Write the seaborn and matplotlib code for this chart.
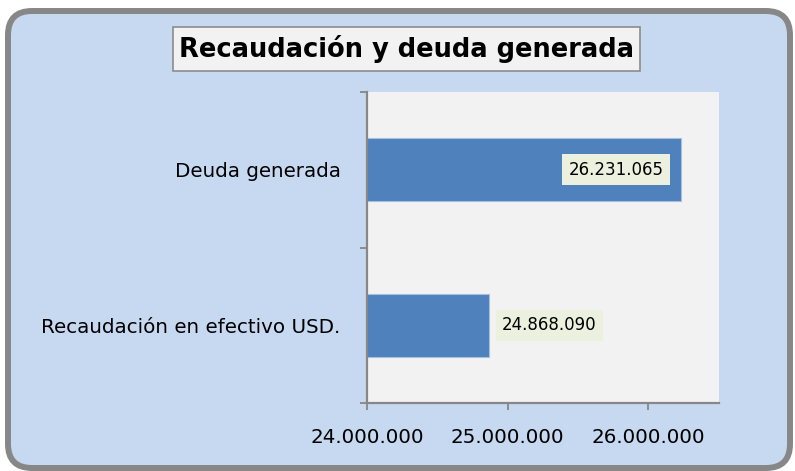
import matplotlib
matplotlib.use("Agg")
import matplotlib.pyplot as plt
from matplotlib.patches import FancyBboxPatch, Rectangle
from matplotlib.transforms import IdentityTransform
from matplotlib.ticker import FuncFormatter, FixedLocator
import pandas as pd
import seaborn as sns

# data
categories = ["Deuda generada", "Recaudación en efectivo USD."]
values = [26231065, 24868090]
x_ticks = [24000000, 25000000, 26000000]
title = "Recaudación y deuda generada"

BG = "#C6D9F1"
PLOT_BG = "#F2F2F2"
BAR = "#4F81BD"
GRAY = "#878787"

sns.set_style("white")
plt.rcParams["font.family"] = ["DejaVu Sans"]
plt.rcParams["text.color"] = "black"
plt.rcParams["xtick.color"] = "black"
plt.rcParams["ytick.color"] = "black"

df = pd.DataFrame({"categoria": categories, "valor": values})

W, H = 795, 471
fig = plt.figure(figsize=(W / 100, H / 100), dpi=100)
fig.patch.set_facecolor("white")

# rounded outer frame
frame = FancyBboxPatch((8, 3), 782, 457, boxstyle="round,pad=0,rounding_size=24",
                       transform=IdentityTransform(), facecolor=BG, edgecolor=GRAY,
                       linewidth=4.3, zorder=0)
fig.add_artist(frame)

# title box
fig.add_artist(Rectangle((173, H - 71), 467, 44, transform=IdentityTransform(),
                         facecolor=PLOT_BG, edgecolor="#8C8C8C", linewidth=1.2, zorder=1))
fig.text(406.5 / W, 1 - 49 / H, title, ha="center", va="center",
         fontsize=18.5, fontweight="bold", color="black", zorder=2)

ax = fig.add_axes([367 / W, 1 - 403 / H, 352 / W, 311 / H])
ax.set_facecolor(PLOT_BG)

sns.barplot(data=df, y="categoria", x="valor", orient="h", color=BAR,
            width=0.405, saturation=1, edgecolor="#A7BFDE", linewidth=0.8, ax=ax)

ax.set_xlim(24000000, 26505000)
ax.set_ylim(1.5, -0.5)
ax.set_xlabel("")
ax.set_ylabel("")

ax.xaxis.set_major_locator(FixedLocator(x_ticks))
ax.xaxis.set_major_formatter(FuncFormatter(lambda v, p: f"{v:,.0f}".replace(",", ".")))
ax.tick_params(axis="x", length=5, width=1.3, color=GRAY, direction="out", pad=13,
               labelsize=14.3, labelcolor="black", bottom=True)
ax.set_yticks([-0.5, 0.5, 1.5], minor=True)
ax.tick_params(axis="y", which="major", length=0, pad=19, labelsize=14.3, labelcolor="black")
ax.tick_params(axis="y", which="minor", length=5, width=1.3, color=GRAY, left=True)

for s in ["top", "right"]:
    ax.spines[s].set_visible(False)
for s in ["left", "bottom"]:
    ax.spines[s].set_color(GRAY)
    ax.spines[s].set_linewidth(1.6)

mid = (ax.get_xlim()[0] + ax.get_xlim()[1]) / 2
for i, v in enumerate(values):
    txt = f"{v:,.0f}".replace(",", ".")
    if v > mid:
        off, ha = -17, "right"
    else:
        off, ha = 13, "left"
    ax.annotate(txt, xy=(v, i), xytext=(off, 0), textcoords="offset pixels",
                ha=ha, va="center", fontsize=12, color="black",
                bbox=dict(boxstyle="square,pad=0.38", facecolor="#EBF1DE", edgecolor="none"))

fig.savefig("out.png", dpi=100, facecolor=fig.get_facecolor())
